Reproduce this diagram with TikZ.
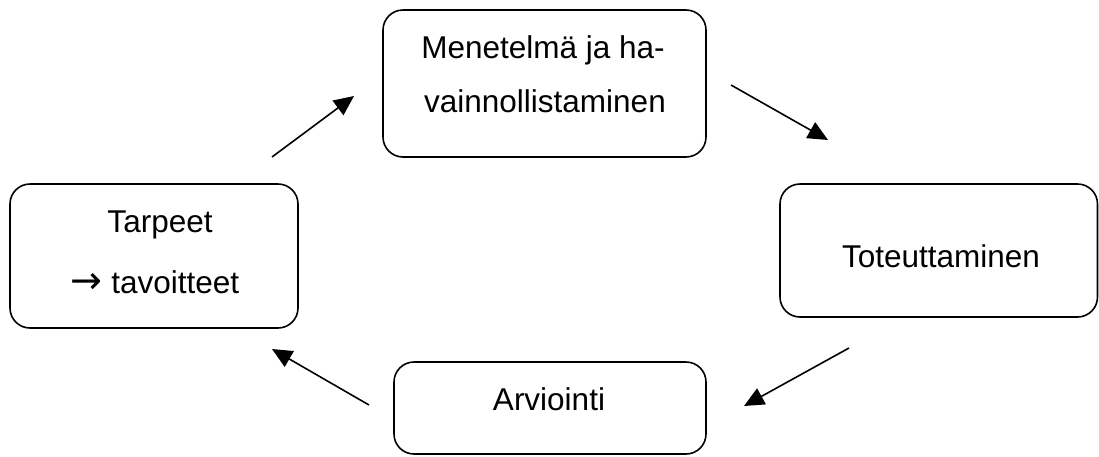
\documentclass[tikz,border=0pt]{standalone}
\usepackage{fontspec}
\setmainfont{Liberation Sans}
\usetikzlibrary{arrows.meta}
\begin{document}
\begin{tikzpicture}[x=1pt,y=-1pt,
  box/.style={draw=black,line width=1.6pt,rounded corners=20pt},
  lbl/.style={font=\fontsize{31.5}{36}\selectfont,anchor=base,inner sep=0pt},
  conn/.style={line width=1.6pt,-{Triangle[length=20pt,width=18pt]}}]
\useasboundingbox (0,0) rectangle (1099,456);
% boxes
\draw[box] (383,10) rectangle (706,157);
\draw[box] (780,184) rectangle (1097.5,317);
\draw[box] (394,362) rectangle (706,454);
\draw[box] (10,184) rectangle (298,328);
% texts
\node[lbl] (m1) at (543,58) {Menetelmä ja ha-};
\node[lbl] (m2) at (545,112) {vainnollistaminen};
\node[lbl] (tot) at (941,267) {Toteuttaminen};
\node[lbl] (arv) at (549,410) {Arviointi};
\node[lbl] (tar) at (160,232) {Tarpeet};
\node[lbl] (tav) at (155,293) {{\fontspec{DejaVu Sans}\fontsize{38}{40}\selectfont\char"2192}\ tavoitteet};
% connectors
\coordinate (a1s) at (272,157); \coordinate (a1e) at (354,96);
\coordinate (a2s) at (731,85);  \coordinate (a2e) at (828,140);
\coordinate (a3s) at (849,348); \coordinate (a3e) at (744,406);
\coordinate (a4s) at (369,405); \coordinate (a4e) at (272,349);
\draw[conn] (a1s) -- (a1e);
\draw[conn] (a2s) -- (a2e);
\draw[conn] (a3s) -- (a3e);
\draw[conn] (a4s) -- (a4e);
\end{tikzpicture}
\end{document}
